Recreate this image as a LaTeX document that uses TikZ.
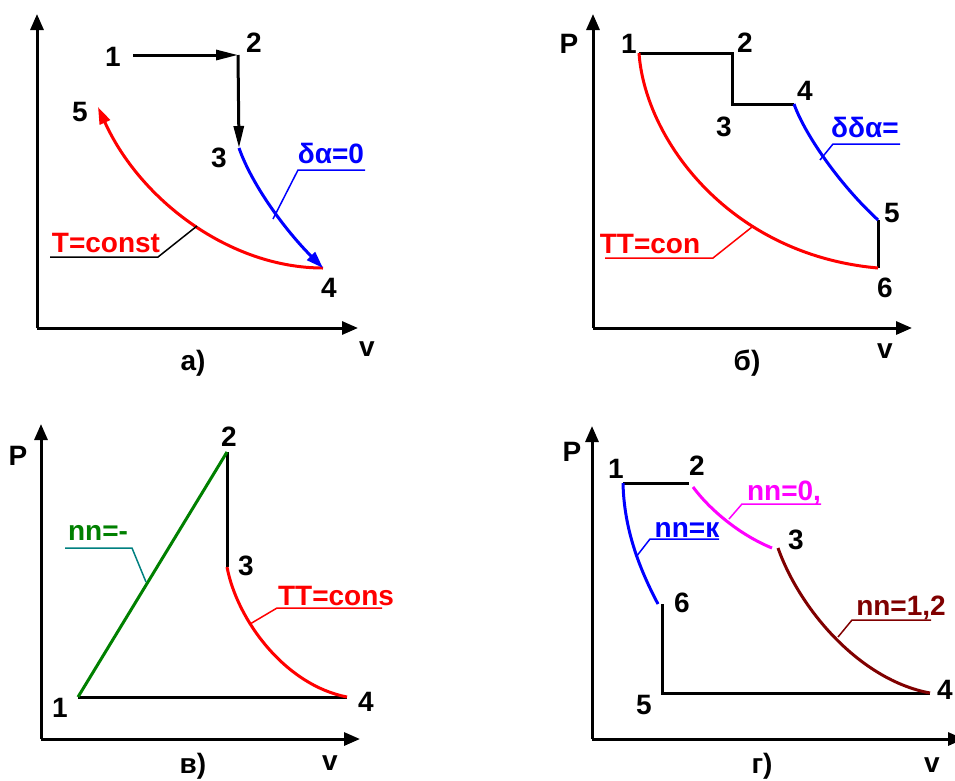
\documentclass[tikz,border=0pt]{standalone}
\usepackage{fontspec}
\setmainfont{Liberation Sans}
\usetikzlibrary{arrows.meta}
\definecolor{cred}{RGB}{255,0,0}
\definecolor{cblue}{RGB}{0,0,255}
\definecolor{cgreen}{RGB}{0,128,0}
\definecolor{cteal}{RGB}{0,128,128}
\definecolor{cmag}{RGB}{255,0,255}
\definecolor{cbrown}{RGB}{128,0,0}
\begin{document}
\begin{tikzpicture}[x=1pt,y=-1pt,
  lbl/.style={font=\fontsize{28}{30}\selectfont\bfseries, inner sep=0pt},
  axis/.style={line width=3pt, -{Triangle[length=16pt,width=13pt]}},
  proc/.style={line width=3pt},
  lead/.style={line width=1.5pt},
  bigtip/.style={-{Triangle[length=22pt,width=10pt]}},
  curvetip/.style={-{Triangle[length=17pt,width=11pt]}}]
\useasboundingbox (0,0) rectangle (955,780);

% ---------------- panel a ----------------
\coordinate (aO) at (37,328);
\coordinate (aY) at (37,14);
\coordinate (aX) at (358,328);
\coordinate (a1) at (133,55);
\coordinate (a2) at (238,55);
\coordinate (a3) at (239,148);
\coordinate (a4) at (323,268);
\coordinate (a5) at (98,107);
\draw[axis] (aO) -- (aY);
\draw[axis] (aO) -- (aX);
\draw[proc,bigtip] (a1) -- (a2);
\draw[proc,bigtip] (a2) -- (a3);
\draw[proc,cred,curvetip] (a4) .. controls (230,268) and (140,200) .. (a5);
\draw[proc,cblue,curvetip] (a3) .. controls (252,185) and (285,230) .. (a4);
\node[lbl] (na1) at (113,57) {1};
\node[lbl] (na2) at (254,43) {2};
\node[lbl] (na3) at (219,158) {3};
\node[lbl] (na4) at (329,288) {4};
\node[lbl] (na5) at (80,112) {5};
\node[lbl] (nav) at (367,349) {v};
\node[lbl,anchor=base] (nacap) at (193,370) {а)};
\node[lbl,anchor=base,text=cred] (naT) at (106,252) {T=const};
\coordinate (aT1) at (50,257);
\coordinate (aT2) at (158,257);
\coordinate (aT3) at (197,226);
\draw[lead] (aT1) -- (aT2) -- (aT3);
\node[lbl,anchor=base,text=cblue] (naq) at (331,163) {δα=0};
\coordinate (aq1) at (365,170);
\coordinate (aq2) at (298,170);
\coordinate (aq3) at (273,219);
\draw[lead,cblue] (aq1) -- (aq2) -- (aq3);

% ---------------- panel b ----------------
\coordinate (bO) at (593,328);
\coordinate (bY) at (593,14);
\coordinate (bX) at (912,328);
\coordinate (b1) at (639,53);
\coordinate (b2) at (732,53);
\coordinate (b3) at (732,104);
\coordinate (b4) at (794,104);
\coordinate (b5) at (878,220);
\coordinate (b6) at (878,268);
\draw[axis] (bO) -- (bY);
\draw[axis] (bO) -- (bX);
\draw[proc] (b1) -- (b2) -- (b3) -- (b4);
\draw[proc] (b5) -- (b6);
\draw[proc,cblue] (b4) .. controls (805,135) and (840,185) .. (b5);
\draw[proc,cred] (b1) .. controls (645,140) and (730,255) .. (b6);
\node[lbl] (nbP) at (569,44) {P};
\node[lbl] (nb1) at (629,44) {1};
\node[lbl] (nb2) at (745,43) {2};
\node[lbl] (nb3) at (724,127) {3};
\node[lbl] (nb4) at (805,91) {4};
\node[lbl] (nb5) at (892,213) {5};
\node[lbl] (nb6) at (885,288) {6};
\node[lbl] (nbv) at (885,351) {v};
\node[lbl,anchor=base] (nbcap) at (747,370) {б)};
\node[lbl,anchor=base,text=cred] (nbT) at (650,253) {TT=con};
\coordinate (bT1) at (605,258);
\coordinate (bT2) at (713,258);
\coordinate (bT3) at (752,227);
\draw[lead,cred] (bT1) -- (bT2) -- (bT3);
\node[lbl,anchor=base,text=cblue] (nbq) at (865,137) {δδα=};
\coordinate (bq1) at (900,144);
\coordinate (bq2) at (833,144);
\coordinate (bq3) at (820,160);
\draw[lead,cblue] (bq1) -- (bq2) -- (bq3);

% ---------------- panel c ----------------
\coordinate (cO) at (41,739);
\coordinate (cY) at (41,424);
\coordinate (cX) at (360,739);
\coordinate (c1) at (78,697);
\coordinate (c2) at (227,452);
\coordinate (c3) at (227,567);
\coordinate (c4) at (347,697);
\draw[axis] (cO) -- (cY);
\draw[axis] (cO) -- (cX);
\draw[proc] (c1) -- (c4);
\draw[proc] (c2) -- (c3);
\draw[proc,cgreen] (c1) -- (c2);
\draw[proc,cred] (c3) .. controls (237,620) and (285,685) .. (c4);
\node[lbl] (ncP) at (18,456) {P};
\node[lbl] (nc1) at (60,708) {1};
\node[lbl] (nc2) at (229,437) {2};
\node[lbl] (nc3) at (246,566) {3};
\node[lbl] (nc4) at (366,702) {4};
\node[lbl] (ncv) at (330,763) {v};
\node[lbl,anchor=base] (nccap) at (193,773) {в)};
\node[lbl,anchor=base,text=cgreen] (ncn) at (98,540) {nn=-};
\coordinate (cn1) at (65,548);
\coordinate (cn2) at (132,548);
\coordinate (cn3) at (146,582);
\draw[lead,cteal] (cn1) -- (cn2) -- (cn3);
\node[lbl,anchor=base,text=cred] (ncT) at (336,605) {TT=cons};
\coordinate (cT1) at (382,608);
\coordinate (cT2) at (277,608);
\coordinate (cT3) at (250,624);
\draw[lead,cred] (cT1) -- (cT2) -- (cT3);

% ---------------- panel d ----------------
\coordinate (dO) at (592,739);
\coordinate (dY) at (592,426);
\coordinate (dX) at (964,739);
\coordinate (d1) at (623,483);
\coordinate (d2) at (689,483);
\coordinate (d2b) at (693,487);
\coordinate (d3) at (772,548);
\coordinate (d3b) at (778,548);
\coordinate (d4) at (930,693);
\coordinate (d5) at (662,693);
\coordinate (d6) at (662,604);
\coordinate (d6b) at (658,604);
\draw[axis] (dO) -- (dY);
\draw[axis] (dO) -- (dX);
\draw[proc] (d1) -- (d2);
\draw[proc] (d6) -- (d5) -- (d4);
\draw[proc,cblue] (d1) .. controls (624,530) and (640,570) .. (d6b);
\draw[proc,cmag] (d2b) .. controls (710,510) and (740,535) .. (d3);
\draw[proc,cbrown] (d3b) .. controls (800,610) and (860,680) .. (d4);
\node[lbl] (ndP) at (572,452) {P};
\node[lbl] (nd1) at (616,469) {1};
\node[lbl] (nd2) at (697,466) {2};
\node[lbl] (nd3) at (796,540) {3};
\node[lbl] (nd4) at (945,690) {4};
\node[lbl] (nd5) at (644,705) {5};
\node[lbl] (nd6) at (682,603) {6};
\node[lbl] (ndv) at (932,765) {v};
\node[lbl,anchor=base] (ndcap) at (762,773) {г)};
\node[lbl,anchor=base,text=cmag] (nd0) at (784,500) {nn=0,};
\coordinate (d01) at (821,504);
\coordinate (d02) at (742,504);
\coordinate (d03) at (729,519);
\draw[lead,cmag] (d01) -- (d02) -- (d03);
\node[lbl,anchor=base,text=cblue] (ndk) at (687,537) {nn=к};
\coordinate (dk1) at (719,539);
\coordinate (dk2) at (650,539);
\coordinate (dk3) at (636,557);
\draw[lead,cblue] (dk1) -- (dk2) -- (dk3);
\node[lbl,anchor=base,text=cbrown] (ndb) at (901,615) {nn=1,2};
\coordinate (db1) at (931,620);
\coordinate (db2) at (852,620);
\coordinate (db3) at (838,637);
\draw[lead,cbrown] (db1) -- (db2) -- (db3);
\end{tikzpicture}
\end{document}
